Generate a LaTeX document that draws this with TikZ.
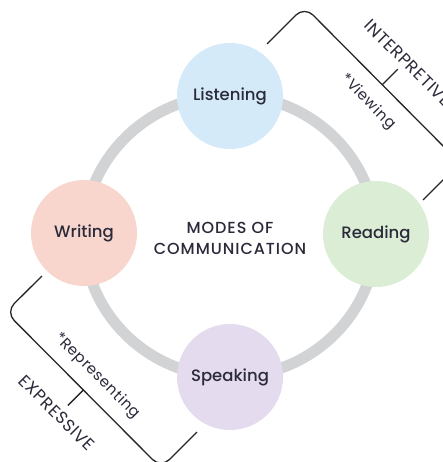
\documentclass[tikz,border=0pt]{standalone}
\usepackage{fontspec}
\setmainfont{Poppins}[BoldFont={Poppins Medium}]
\newfontfamily\spacedfont{Poppins}[LetterSpace=4]
\newfontfamily\spacedmedium{Poppins Medium}[LetterSpace=6]
\usetikzlibrary{calc}
\definecolor{lblue}{HTML}{D4EAF8}
\definecolor{lgreen}{HTML}{DCEDD5}
\definecolor{lpurple}{HTML}{E4DCEE}
\definecolor{lpink}{HTML}{F8D6CE}
\definecolor{ringgray}{HTML}{D1D3D4}
\definecolor{txt}{HTML}{2A2A3A}
\begin{document}
\begin{tikzpicture}[x=1pt,y=-1pt,
  ring/.style={draw=ringgray, line width=11pt},
  mode/.style={circle, minimum size=106pt, inner sep=0pt, text=txt,
    font=\bfseries\fontsize{16.5}{18}\selectfont},
  center/.style={align=center, text=txt, font=\spacedmedium\fontsize{16}{21}\selectfont},
  bracket/.style={draw=black!85, line width=1.3pt, rounded corners=12pt},
  tick/.style={draw=black!85, line width=1.3pt},
  group/.style={rotate=-45, text=txt, font=\spacedfont\fontsize{17}{19}\selectfont},
  extra/.style={rotate=-45, text=txt, font=\spacedfont\fontsize{15}{17}\selectfont}]
\useasboundingbox (0,0) rectangle (443,462);
\fill[white] (0,0) rectangle (443,462);
\node (c) at (230,236) {};
\draw[ring] (c) ellipse [x radius=146, y radius=141];
\node[mode, fill=lblue] (listening) at (230,96) {Listening};
\node[mode, fill=lgreen] (reading) at (376,234) {Reading};
\node[mode, fill=lpurple] (speaking) at (230,377) {Speaking};
\node[mode, fill=lpink] (writing) at (84,233) {Writing};
\node[center] (modes) at (230,238) {MODES OF\\COMMUNICATION};
% interpretive bracket
\coordinate (i1) at (267,44);
\coordinate (i2) at (304.5,6.5);
\coordinate (i3) at (460,163);
\coordinate (i4) at (423,200);
\draw[bracket] (i1) -- (i2) -- (i3) -- (i4);
\coordinate (im) at ($(i2)!0.5!(i3)$);
\coordinate (it) at ($(im)+(15.5,-15.5)$);
\draw[tick] (im) -- (it);
\node[group] (interp) at (408,63) {INTERPRETIVE};
\node[extra] (view) at (368,102) {*Viewing};
% expressive bracket
\coordinate (e1) at (42,276);
\coordinate (e2) at (5.7,312);
\coordinate (e3) at (161,468);
\coordinate (e4) at (197,432);
\draw[bracket] (e1) -- (e2) -- (e3) -- (e4);
\coordinate (em) at ($(e2)!0.5!(e3)$);
\coordinate (et) at ($(em)+(-15.5,15.5)$);
\draw[tick] (em) -- (et);
\node[group] (expr) at (57,413) {EXPRESSIVE};
\node[extra] (repr) at (97,376) {*Representing};
\end{tikzpicture}
\end{document}
